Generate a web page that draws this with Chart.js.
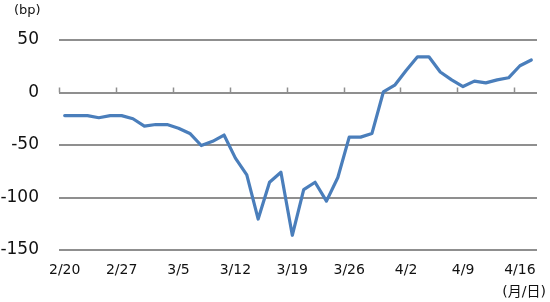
<!DOCTYPE html>
<html>
<head>
<meta charset="utf-8">
<script src="https://cdn.jsdelivr.net/npm/chart.js@4/dist/chart.umd.min.js"></script>
<style>
  html,body{margin:0;padding:0;background:#fff;}
  #wrap{width:550px;height:302px;}
</style>
</head>
<body>
<div id="wrap"><canvas id="c" width="550" height="302"></canvas></div>
<script>
  // business days, 2/20 .. 4/17
  const dates = ['2/20','2/21','2/24','2/25','2/26','2/27','2/28','3/2','3/3','3/4',
    '3/5','3/6','3/9','3/10','3/11','3/12','3/13','3/16','3/17','3/18',
    '3/19','3/20','3/23','3/24','3/25','3/26','3/27','3/30','3/31','4/1',
    '4/2','4/3','4/6','4/7','4/8','4/9','4/10','4/13','4/14','4/15',
    '4/16','4/17'];
  const spread = [-22,-22,-22,-24,-22,-22,-25,-32,-30.5,-30.5,
    -34,-39,-50.5,-46.5,-40.5,-62.5,-78.5,-120.5,-85.5,-76,
    -136,-92.5,-85.5,-103.5,-81,-42.5,-42.5,-39,0.5,7,
    21,34,34,19.5,12,5.7,10.8,9.2,12,14,
    25.5,31];
  const labelEvery = 5;
  const yMin = -150, yMax = 50, yStep = 50;
  const unitY = '(bp)';
  const unitX = '(月/日)';

  const FONT = '"DejaVu Sans", "Noto Sans CJK JP", sans-serif';
  const GRID = '#8f8f8f';

  // small ticks on the zero line + unit captions
  const extras = {
    id:'extras',
    afterDraw(chart){
      const {ctx, scales:{x, y}} = chart;
      const y0 = y.getPixelForValue(0);
      const half = (x.getPixelForValue(1) - x.getPixelForValue(0)) / 2;
      ctx.save();
      ctx.strokeStyle = GRID; ctx.lineWidth = 1.5;
      for (let i = 0; i < dates.length; i += labelEvery){
        const px = Math.round(x.getPixelForValue(i) - half) + 0.5;
        ctx.beginPath(); ctx.moveTo(px, y0); ctx.lineTo(px, y0 - 5); ctx.stroke();
      }
      ctx.fillStyle = '#111';
      ctx.textBaseline = 'middle';
      ctx.font = '13px ' + FONT;
      ctx.textAlign = 'left';
      ctx.fillText(unitY, 14, 11);
      ctx.font = '14px ' + FONT;
      ctx.textAlign = 'right';
      ctx.fillText(unitX, 546, 292);
      ctx.restore();
    }
  };

  new Chart(document.getElementById('c'), {
    type:'line',
    data:{ labels: dates, datasets:[{
      data: spread, borderColor:'#4a7ebb', borderWidth:3.2,
      pointRadius:0, tension:0, borderJoinStyle:'round', borderCapStyle:'round', fill:false
    }]},
    options:{
      responsive:false, animation:false, devicePixelRatio:1,
      layout:{ padding:{ left:0, right:13, top:40, bottom:0 } },
      plugins:{ legend:{display:false}, tooltip:{enabled:false} },
      scales:{
        x:{
          offset:true,
          grid:{ display:false, drawTicks:false },
          border:{ display:false },
          ticks:{
            autoSkip:false, maxRotation:0, padding:12, color:'#111',
            font:{ family:FONT, size:14 },
            callback:(v,i)=> i % labelEvery === 0 ? dates[i] : ''
          },
          afterFit:(s)=>{ s.height = 52; }
        },
        y:{
          min:yMin, max:yMax,
          grid:{ color:GRID, lineWidth:2, drawTicks:false },
          border:{ display:false },
          ticks:{ stepSize:yStep, padding:20, color:'#111', font:{ family:FONT, size:17 } },
          afterFit:(s)=>{ s.width = 59; }
        }
      }
    },
    plugins:[extras]
  });
</script>
</body>
</html>
